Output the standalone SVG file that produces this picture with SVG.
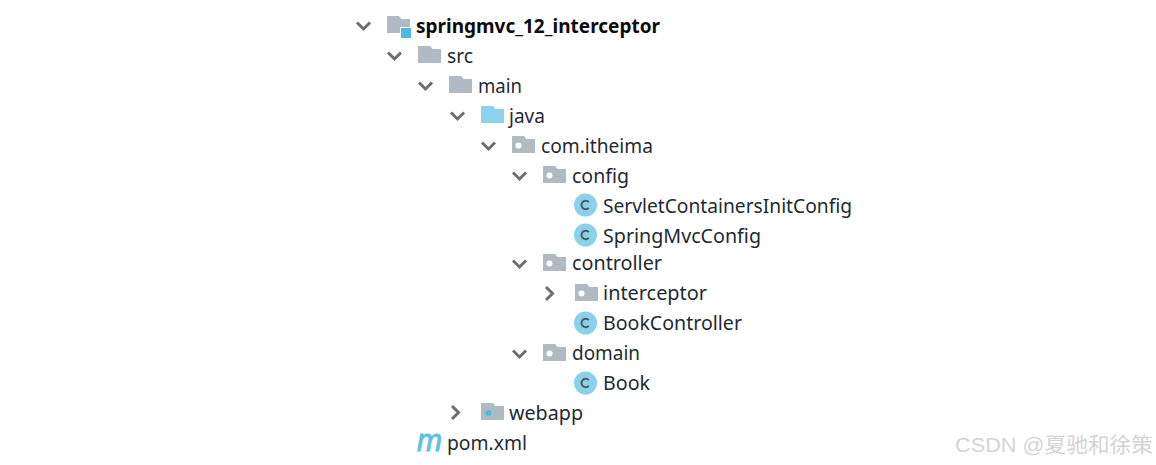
<svg xmlns="http://www.w3.org/2000/svg" width="1156" height="465" viewBox="0 0 1156 465">
<style>
.t{font-family:"Noto Sans","Open Sans",sans-serif;font-size:19.5px;fill:#1f2a33}
.b{font-weight:700;fill:#0c0c0c}
.wm{font-family:"Liberation Sans","Noto Sans CJK SC",sans-serif;font-size:21px;fill:#d4d4d4}
.ch{fill:none;stroke:#6e6e6e;stroke-width:3}
.g{fill:#afbac2}
.m{fill:#fff}
.cc{fill:#8ad2ea}
.cl{fill:none;stroke:#4d5b66;stroke-width:2}
</style>
<defs>
<path id="f" d="M0 0H12L14.500 3H23V17H0Z"/>
<path id="open" class="ch" d="M0 0L6.500 6.500L13 0"/>
<path id="closed" class="ch" d="M0 0L6.500 6.500L0 13"/>
<g id="pkg"><use href="#f" class="g"/><circle class="m" cx="6.500" cy="9.500" r="3"/></g>
<g id="cls"><circle class="cc" cx="10.500" cy="11" r="11.500"/><path class="cl" d="M13.800 8.200A4.200 4.200 0 1 0 13.800 13.800"/></g>
</defs>
<g id="connectors"></g>
<g id="node-root"><use href="#open" x="357" y="22.500"/><use href="#f" class="g" x="387" y="16"/><rect x="400" y="27" width="11" height="11" fill="#fff"/><rect x="401" y="28" width="10" height="10" fill="#4fb9e3"/><text class="t b" x="416" y="33" textLength="244" lengthAdjust="spacingAndGlyphs">springmvc_12_interceptor</text></g>
<g id="node-src"><use href="#open" x="388" y="52.500"/><use href="#f" class="g" x="418" y="46"/><text class="t" x="447" y="63" textLength="26" lengthAdjust="spacingAndGlyphs">src</text></g>
<g id="node-main"><use href="#open" x="419" y="82.500"/><use href="#f" class="g" x="449" y="76"/><text class="t" x="478" y="93" textLength="44" lengthAdjust="spacingAndGlyphs">main</text></g>
<g id="node-java"><use href="#open" x="451" y="112.500"/><use href="#f" fill="#8ad2ee" x="481" y="106"/><text class="t" x="509" y="123" textLength="36" lengthAdjust="spacingAndGlyphs">java</text></g>
<g id="node-comitheima"><use href="#open" x="482" y="142.500"/><use href="#pkg" x="512" y="136"/><text class="t" x="541" y="153" textLength="112" lengthAdjust="spacingAndGlyphs">com.itheima</text></g>
<g id="node-config"><use href="#open" x="513" y="172.500"/><use href="#pkg" x="543" y="166"/><text class="t" x="572" y="183" textLength="57" lengthAdjust="spacingAndGlyphs">config</text></g>
<g id="node-servletcontainers"><use href="#cls" x="575" y="194"/><text class="t" x="603" y="213" textLength="249" lengthAdjust="spacingAndGlyphs">ServletContainersInitConfig</text></g>
<g id="node-springmvcconfig"><use href="#cls" x="575" y="224"/><text class="t" x="603" y="243" textLength="158" lengthAdjust="spacingAndGlyphs">SpringMvcConfig</text></g>
<g id="node-controller"><use href="#open" x="513" y="260.500"/><use href="#pkg" x="543" y="254"/><text class="t" x="572" y="270" textLength="90" lengthAdjust="spacingAndGlyphs">controller</text></g>
<g id="node-interceptor"><use href="#closed" x="546" y="287"/><use href="#pkg" x="575" y="284"/><text class="t" x="603" y="300" textLength="104" lengthAdjust="spacingAndGlyphs">interceptor</text></g>
<g id="node-bookcontroller"><use href="#cls" x="575" y="312"/><text class="t" x="603" y="330" textLength="139" lengthAdjust="spacingAndGlyphs">BookController</text></g>
<g id="node-domain"><use href="#open" x="513" y="350.500"/><use href="#pkg" x="543" y="344"/><text class="t" x="572" y="360" textLength="68" lengthAdjust="spacingAndGlyphs">domain</text></g>
<g id="node-book"><use href="#cls" x="575" y="372"/><text class="t" x="603" y="390" textLength="47" lengthAdjust="spacingAndGlyphs">Book</text></g>
<g id="node-webapp"><use href="#closed" x="452" y="406"/><use href="#f" class="g" x="481" y="403"/><circle cx="488.500" cy="413" r="3" fill="#4fb9e3"/><text class="t" x="509" y="420" textLength="74" lengthAdjust="spacingAndGlyphs">webapp</text></g>
<g id="node-pom"><text x="417" y="451" font-family="'Liberation Sans',sans-serif" font-style="italic" font-size="31" fill="#5cc0e8" stroke="#5cc0e8" stroke-width="0.900" textLength="25" lengthAdjust="spacingAndGlyphs">m</text><text class="t" x="447" y="450" textLength="80" lengthAdjust="spacingAndGlyphs">pom.xml</text></g>
<text class="wm" x="955" y="452" textLength="198" lengthAdjust="spacingAndGlyphs">CSDN @夏驰和徐策</text>
</svg>
